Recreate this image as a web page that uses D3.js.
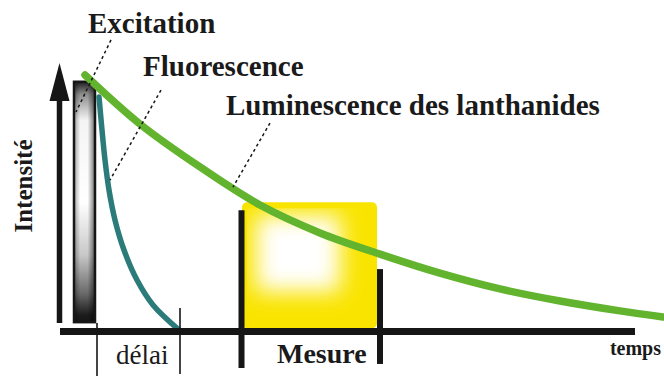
<!DOCTYPE html>
<html>
<head>
<meta charset="utf-8">
<script src="https://cdn.jsdelivr.net/npm/d3@7"></script>
<style>
  html, body { margin: 0; padding: 0; background: #fff; }
  svg { display: block; }
  text { font-family: "Liberation Serif", "Times New Roman", serif; fill: #1a1a1a; }
</style>
</head>
<body>
<svg id="chart" width="664" height="376"></svg>
<script>
// Time runs in arbitrary units along the axis, intensity in % of the peak.
const timeAxisEnd = 575;

// Excitation pulse window [start, end] and its height
const excitationPulse = [14, 35];
const excitationTop = 93;

// Short-lived background fluorescence: [time, intensity]
const fluorescenceDecay = [
  [39, 87.3], [42, 75.0], [45, 63.8], [49, 52.6], [55, 41.4],
  [64, 30.2], [77, 19.0], [93, 9.7], [118, 0.7]
];

// Long-lived lanthanide luminescence: [time, intensity]
const lanthanideDecay = [
  [25, 95.5], [80, 77.2], [140, 61.2], [200, 47.0], [260, 36.6],
  [320, 28.7], [380, 21.6], [440, 15.7], [500, 11.2], [560, 7.5], [603, 5.2]
];

// Delay marks (after the pulse, then end of fluorescence)
const delayMarks = [
  { t: 37, from: 3, to: -17 },
  { t: 120, from: 8.6, to: -16 }
];

// Measurement (gate) window
const gateWindow = [182, 317];
const gateLevel = [1, 48];
const gateBars = [
  { t: 181.5, top: 45.1, bottom: -13.8 },
  { t: 320, top: 23.1, bottom: -12.3 }
];

// Labels with their dotted leader lines [from, to] as [time, intensity]
const labels = [
  { text: "Excitation", x: 88, y: 33, leader: [[51, 108.6], [16, 81.7]] },
  { text: "Fluorescence", x: 143, y: 76, leader: [[101, 89.9], [50, 56.3]] },
  { text: "Luminescence des lanthanides", x: 226, y: 115, leader: [[210, 77.6], [173, 53.7]] }
];

const axisLabels = { y: "Intensité", x: "temps", delay: "délai", gate: "Mesure" };

const svg = d3.select("#chart");
const x = d3.scaleLinear().domain([0, 600]).range([60, 660]);
const y = d3.scaleLinear().domain([0, 100]).range([331, 63]);

const defs = svg.append("defs");

// Excitation pulse shading: dark ends, bright centre
const gv = defs.append("linearGradient").attr("id", "pulseV")
  .attr("x1", 0).attr("y1", 0).attr("x2", 0).attr("y2", 1);
[[0, "#1c1c1c"], [0.05, "#8a8a8a"], [0.16, "#f4f4f4"], [0.5, "#ffffff"],
 [0.72, "#c8c8c8"], [0.88, "#6a6a6a"], [0.97, "#1c1c1c"], [1, "#151515"]]
  .forEach(([o, c]) => gv.append("stop").attr("offset", o).attr("stop-color", c));
const gh = defs.append("linearGradient").attr("id", "pulseH")
  .attr("x1", 0).attr("y1", 0).attr("x2", 1).attr("y2", 0);
[[0, 0.35], [0.3, 0], [0.65, 0], [1, 0.55]]
  .forEach(([o, a]) => gh.append("stop").attr("offset", o)
    .attr("stop-color", "#000").attr("stop-opacity", a));

// Gate window glow
defs.append("filter").attr("id", "soft")
  .attr("x", "-50%").attr("y", "-50%").attr("width", "200%").attr("height", "200%")
  .append("feGaussianBlur").attr("stdDeviation", 11);
defs.append("clipPath").attr("id", "gateClip").append("rect")
  .attr("x", x(gateWindow[0]) + 5).attr("y", y(gateLevel[1]) + 6)
  .attr("width", x(gateWindow[1]) - x(gateWindow[0]) - 10)
  .attr("height", y(gateLevel[0]) - y(gateLevel[1]) - 14);

// Measurement window
svg.append("rect")
  .attr("x", x(gateWindow[0])).attr("y", y(gateLevel[1]))
  .attr("width", x(gateWindow[1]) - x(gateWindow[0]))
  .attr("height", y(gateLevel[0]) - y(gateLevel[1]))
  .attr("rx", 5).attr("fill", "#f9e400");
svg.append("g").attr("clip-path", "url(#gateClip)")
  .append("rect")
  .attr("x", x(gateWindow[0]) + 14).attr("y", y(gateLevel[1]) + 13)
  .attr("width", 84).attr("height", 76)
  .attr("fill", "#fff").attr("filter", "url(#soft)");

// Intensity axis arrow
const ax = 59.5;
svg.append("line").attr("x1", ax).attr("x2", ax)
  .attr("y1", y(3)).attr("y2", y(90))
  .attr("stroke", "#161616").attr("stroke-width", 5.5);
svg.append("path")
  .attr("d", `M${ax},${y(100)} L${ax + 10},${y(85.8)} L${ax - 10},${y(85.8)} Z`)
  .attr("fill", "#161616");

// Excitation pulse
const px0 = x(excitationPulse[0]), px1 = x(excitationPulse[1]);
svg.append("rect").attr("x", px0).attr("y", y(excitationTop))
  .attr("width", px1 - px0).attr("height", y(3.3) - y(excitationTop))
  .attr("fill", "url(#pulseV)");
svg.append("rect").attr("x", px0).attr("y", y(excitationTop))
  .attr("width", px1 - px0).attr("height", y(3.3) - y(excitationTop))
  .attr("fill", "url(#pulseH)")
  .attr("stroke", "#161616").attr("stroke-width", 2.5);

const line = d3.line().x(d => x(d[0])).y(d => y(d[1]));

// Fluorescence decay
svg.append("path").datum(fluorescenceDecay)
  .attr("d", line.curve(d3.curveCatmullRom.alpha(0.5)))
  .attr("fill", "none").attr("stroke", "#2c7b7b")
  .attr("stroke-width", 5.5).attr("stroke-linecap", "round");

// Time axis
svg.append("line").attr("x1", x(0)).attr("x2", x(timeAxisEnd))
  .attr("y1", y(0) + 0.5).attr("y2", y(0) + 0.5)
  .attr("stroke", "#161616").attr("stroke-width", 7);

// Delay marks
svg.selectAll("line.delay").data(delayMarks).join("line")
  .attr("class", "delay")
  .attr("x1", d => x(d.t)).attr("x2", d => x(d.t))
  .attr("y1", d => y(d.from)).attr("y2", d => y(d.to))
  .attr("stroke", "#161616").attr("stroke-width", 1.6);

// Lanthanide luminescence decay
svg.append("path").datum(lanthanideDecay)
  .attr("d", line.curve(d3.curveCatmullRom.alpha(0.5)))
  .attr("fill", "none").attr("stroke", "#62b32e")
  .attr("stroke-width", 7.5).attr("stroke-linecap", "round");

// Gate bars
svg.selectAll("line.gate").data(gateBars).join("line")
  .attr("class", "gate")
  .attr("x1", d => x(d.t)).attr("x2", d => x(d.t))
  .attr("y1", d => y(d.top)).attr("y2", d => y(d.bottom))
  .attr("stroke", "#161616").attr("stroke-width", 6);

// Leader lines and labels
svg.selectAll("line.leader").data(labels).join("line")
  .attr("class", "leader")
  .attr("x1", d => x(d.leader[0][0])).attr("y1", d => y(d.leader[0][1]))
  .attr("x2", d => x(d.leader[1][0])).attr("y2", d => y(d.leader[1][1]))
  .attr("stroke", "#161616").attr("stroke-width", 1.5)
  .attr("stroke-dasharray", "3,3");

svg.selectAll("text.label").data(labels).join("text")
  .attr("class", "label")
  .attr("x", d => d.x).attr("y", d => d.y)
  .attr("font-size", 29).attr("font-weight", "bold")
  .text(d => d.text);

svg.append("text")
  .attr("transform", "translate(32,186) rotate(-90)")
  .attr("text-anchor", "middle")
  .attr("font-size", 25).attr("font-weight", "bold")
  .text(axisLabels.y);

svg.append("text").attr("x", 661).attr("y", 355)
  .attr("text-anchor", "end")
  .attr("font-size", 20).attr("font-weight", "bold")
  .text(axisLabels.x);

svg.append("text").attr("x", 116).attr("y", 364)
  .attr("font-size", 27)
  .text(axisLabels.delay);

svg.append("text").attr("x", 277).attr("y", 363)
  .attr("font-size", 28).attr("font-weight", "bold")
  .text(axisLabels.gate);
</script>
</body>
</html>
